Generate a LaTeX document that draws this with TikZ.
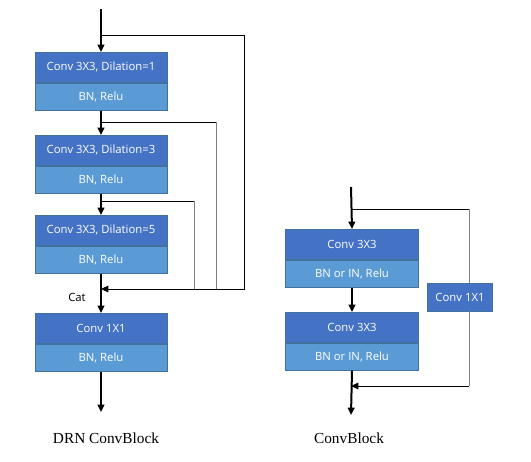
\documentclass[tikz,border=0pt]{standalone}
\usepackage{fontspec}
\setsansfont{Open Sans}
\setmainfont{Liberation Serif}
\usepackage{tikz}
\usetikzlibrary{arrows.meta, positioning}

\definecolor{convblue}{HTML}{4472C4}
\definecolor{bnblue}{HTML}{5B9BD5}
\definecolor{edgeblue}{HTML}{41719C}

\tikzset{
    convbox/.style={draw=edgeblue, line width=0.5pt, fill=convblue, text=white,
        font=\sffamily\fontsize{8.5}{9}\selectfont, minimum width=99pt, minimum height=22.5pt, inner sep=0pt},
    bnbox/.style={convbox, fill=bnblue, minimum height=20.5pt},
    mainline/.style={line width=1.5pt, -{Triangle[length=5.5pt,width=5pt]}},
    skipline/.style={line width=0.7pt, black},
    greyline/.style={line width=0.7pt, gray},
    caption/.style={font=\fontsize{11.5}{13}\selectfont}
}

\begin{document}
\begin{tikzpicture}[x=0.75pt, y=-0.75pt]
        \useasboundingbox (0,0) rectangle (531,461);
        % DRN ConvBlock
        \node [convbox, anchor=north] (c1) at (101,52) {Conv 3X3, Dilation=1};
        \node [bnbox, below=0pt of c1] (b1) {BN, Relu};
        \node [convbox, anchor=north] (c2) at (101,135) {Conv 3X3, Dilation=3};
        \node [bnbox, below=0pt of c2] (b2) {BN, Relu};
        \node [convbox, anchor=north] (c3) at (101,215) {Conv 3X3, Dilation=5};
        \node [bnbox, below=0pt of c3] (b3) {BN, Relu};
        \node [convbox, anchor=north] (c4) at (101,313) {Conv 1X1};
        \node [bnbox, below=0pt of c4] (b4) {BN, Relu};
        \coordinate (in1) at (101,9);
        \coordinate (s1) at (101,35);
        \coordinate (s2) at (101,122);
        \coordinate (s3) at (101,201);
        \coordinate (cat) at (101,289);
        \coordinate (out1) at (101,412);
        \draw [mainline] (in1) -- (c1.north);
        \draw [mainline] (b1.south) -- (c2.north);
        \draw [mainline] (b2.south) -- (c3.north);
        \draw [mainline] (b3.south) -- (c4.north);
        \draw [mainline] (b4.south) -- (out1);
        \draw [skipline] (s2) -- (216,122);
        \draw [greyline] (216,122) -- (216,289);
        \draw [skipline] (s3) -- (194,201);
        \draw [greyline] (194,201) -- (194,289);
        \draw [skipline, -{Triangle[length=5.5pt,width=5pt]}] (s1) -| (244,289) -- (cat);
        \node [font=\sffamily\fontsize{8.5}{9}\selectfont] (catlabel) at (77,297) {Cat};
        \node [caption] (drn) at (106,438) {DRN ConvBlock};
        % ConvBlock
        \node [convbox, anchor=north, minimum width=100pt] (r1) at (352,229) {Conv 3X3};
        \node [bnbox, below=0pt of r1, minimum width=100pt] (q1) {BN or IN, Relu};
        \node [convbox, anchor=north, minimum width=100pt] (r2) at (352,312) {Conv 3X3};
        \node [bnbox, below=0pt of r2, minimum width=100pt] (q2) {BN or IN, Relu};
        \node [convbox, anchor=north, minimum width=49pt, minimum height=21pt] (k) at (460,283) {Conv 1X1};
        \coordinate (in2) at (351,187);
        \coordinate (t1) at (351,209);
        \coordinate (add) at (351,386);
        \coordinate (out2) at (351,415);
        \draw [mainline] (in2) -- (r1.north);
        \draw [mainline] (q1.south) -- (r2.north);
        \draw [mainline] (q2.south) -- (out2);
        \draw [skipline] (t1) -- (469,209);
        \draw [greyline] (469,209) -- (469,283);
        \draw [greyline] (469,311) -- (469,386);
        \draw [skipline, -{Triangle[length=5.5pt,width=5pt]}] (469,386) -- (add);
        \node [caption] (conv) at (349,438) {ConvBlock};
\end{tikzpicture}
\end{document}
